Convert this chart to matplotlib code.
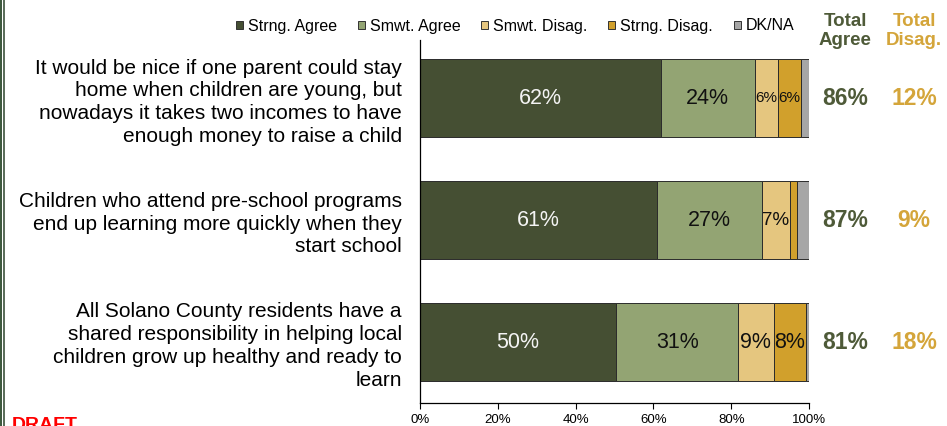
import matplotlib
matplotlib.use("Agg")
import matplotlib.pyplot as plt
from matplotlib.patches import Patch
from matplotlib.transforms import blended_transform_factory

plt.rcParams['font.family'] = ['Liberation Sans', 'DejaVu Sans']

questions = [
    "It would be nice if one parent could stay\nhome when children are young, but\nnowadays it takes two incomes to have\nenough money to raise a child",
    "Children who attend pre-school programs\nend up learning more quickly when they\nstart school",
    "All Solano County residents have a\nshared responsibility in helping local\nchildren grow up healthy and ready to\nlearn",
]
series = ["Strng. Agree", "Smwt. Agree", "Smwt. Disag.", "Strng. Disag.", "DK/NA"]
strng_agree = [62, 61, 50.4]
smwt_agree = [24, 27, 31.4]
smwt_disag = [6, 7, 9.1]
strng_disag = [6, 2, 8.3]
dk_na = [2, 3, 0.8]
total_agree = ["86%", "87%", "81%"]
total_disag = ["12%", "9%", "18%"]
xticks = [0, 20, 40, 60, 80, 100]

colors = ["#454f33", "#93a473", "#e5c67f", "#d1a02c", "#a6a6a6"]
label_colors = ["#f4f4f4", "#111111", "#111111", "#111111", "#111111"]
agree_col = "#4e5a38"
disag_col = "#d4a53a"


def label_size(v):
    if v <= 6:
        return 11
    if v <= 7:
        return 13.5
    return 15.5


fig = plt.figure(figsize=(9.47, 4.26), dpi=100)
ax = fig.add_axes([420 / 947, 1 - 403 / 426, 389 / 947, 363 / 426])

ypos = list(range(len(questions)))
left = [0] * len(questions)
for name, vals, col, lc in zip(series, [strng_agree, smwt_agree, smwt_disag, strng_disag, dk_na],
                               colors, label_colors):
    bars = ax.barh(ypos, vals, left=left, height=0.64, color=col,
                   edgecolor="#2b2b2b", linewidth=0.7)
    if name != "DK/NA":
        for b, v, l in zip(bars, vals, left):
            if v < 5:
                continue
            ax.text(l + v / 2, b.get_y() + b.get_height() / 2, "%d%%" % round(v),
                    ha="center", va="center", color=lc, fontsize=label_size(v))
    left = [a + b for a, b in zip(left, vals)]

ax.set_xlim(0, 100)
ax.set_ylim(2.5, -0.48)
ax.set_xticks(xticks)
ax.set_xticklabels(["%d%%" % t for t in xticks], fontsize=9.5)
ax.tick_params(axis="x", length=4, width=0.8, pad=4)
ax.set_yticks(ypos)
ax.set_yticklabels(questions, fontsize=15, linespacing=1.25)
ax.tick_params(axis="y", length=0, pad=13)
for s in ["top", "right"]:
    ax.spines[s].set_visible(False)
for s in ["left", "bottom"]:
    ax.spines[s].set_linewidth(0.9)

# totals to the right of the bars
tr = blended_transform_factory(fig.transFigure, ax.transData)
for y, a, d in zip(ypos, total_agree, total_disag):
    ax.text(845 / 947, y, a, transform=tr, ha="center", va="center",
            color=agree_col, fontsize=16.5, fontweight="bold")
    ax.text(914 / 947, y, d, transform=tr, ha="center", va="center",
            color=disag_col, fontsize=16.5, fontweight="bold")
fig.text(845 / 947, 1 - 31 / 426, "Total\nAgree", ha="center", va="center",
         color=agree_col, fontsize=13.5, fontweight="bold", linespacing=1.2)
fig.text(914 / 947, 1 - 31 / 426, "Total\nDisag.", ha="center", va="center",
         color=disag_col, fontsize=13.5, fontweight="bold", linespacing=1.2)

handles = [Patch(facecolor=c, edgecolor="#333333", linewidth=0.7) for c in colors]
fig.legend(handles, series, loc="center", bbox_to_anchor=(515 / 947, 1 - 26 / 426),
           ncol=5, frameon=False, fontsize=11.5, handlelength=0.45, handleheight=0.45,
           handletextpad=0.3, columnspacing=1.3, borderaxespad=0, borderpad=0)

# frame strip on the left edge
fig.add_artist(plt.Rectangle((0, 0), 2 / 947, 1, transform=fig.transFigure,
                             color="#3f5a3f", lw=0))
fig.add_artist(plt.Rectangle((3 / 947, 0), 2 / 947, 1, transform=fig.transFigure,
                             color="#5c6f5c", lw=0))

fig.text(12 / 947, -4 / 426, "DRAFT", color="red", fontsize=14, fontweight="bold",
         ha="left", va="baseline")

fig.savefig("out.png", dpi=100)
